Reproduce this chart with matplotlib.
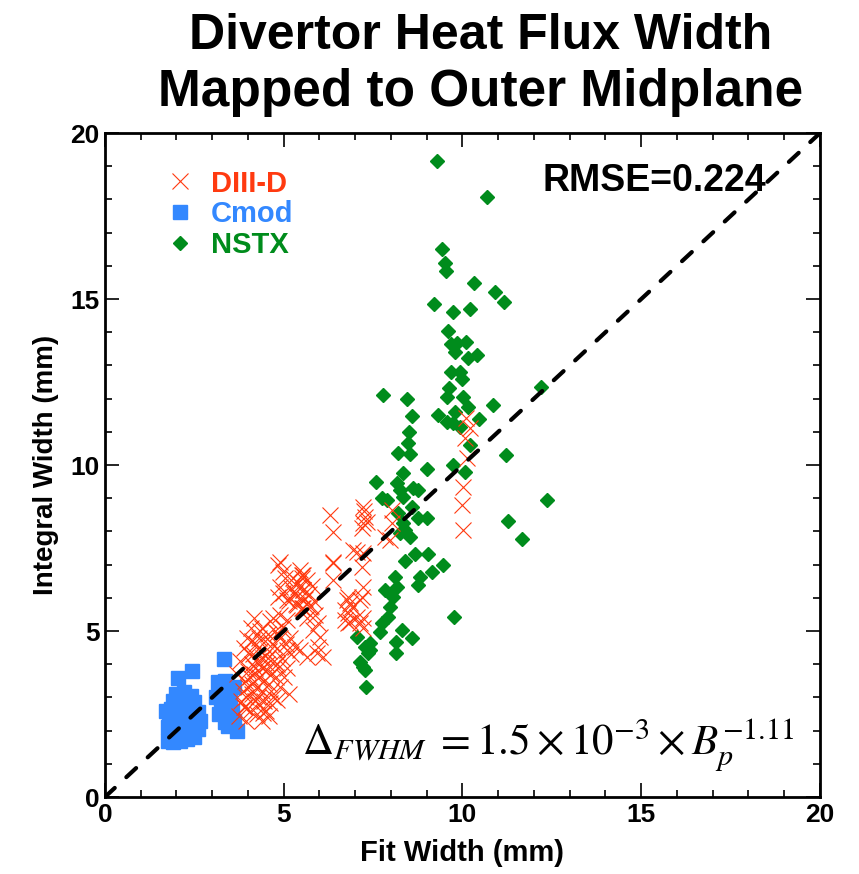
import numpy as np
import matplotlib.pyplot as plt

# values (mm)
diiid_x = [3.75, 3.8, 3.85, 3.9, 3.92, 3.95, 4.0, 4.0, 4.05, 4.05, 4.1, 4.1, 4.12, 4.15, 4.18, 4.2, 4.2, 4.22,
           4.25, 4.28, 4.3, 4.3, 4.32, 4.35, 4.38, 4.4, 4.4, 4.42, 4.45, 4.48, 4.5, 4.5, 4.52, 4.55, 4.58, 4.6,
           4.62, 4.65, 4.68, 4.7, 4.72, 4.75, 4.78, 4.8, 4.85, 4.9, 4.9, 4.95, 5.0, 5.05, 5.1, 5.15, 5.2, 3.7,
           3.78, 3.88, 3.98, 4.08, 4.18, 4.25, 4.6, 4.4, 3.95, 4.12, 4.35, 4.02, 4.55, 4.28, 4.45, 4.7, 4.82, 4.65,
           3.92, 4.42, 4.62, 4.81, 6.01, 6.1, 6.77, 6.71,
           5.15, 5.2, 5.25, 5.3, 5.35, 5.4, 5.45, 5.5, 5.52, 5.55, 5.6, 5.65, 5.7, 5.75, 5.8, 5.85, 5.45, 5.51,
           5.4, 5.54, 5.31, 5.37, 5.54, 4.9, 4.98, 4.84, 5.09, 4.9, 4.98, 5.03, 4.84, 5.54, 6.38,
           4.9, 5.09, 4.98, 4.81, 5.17, 5.31, 5.09, 5.45, 5.96, 5.73, 5.87, 5.65, 5.96, 5.82, 5.65, 5.93,
           6.29, 7.22, 7.27, 7.22, 7.33, 7.19, 7.25, 6.38, 6.94, 7.05, 6.38, 6.85, 7.13, 6.8, 7.05, 7.22, 6.85,
           7.13, 6.38, 7.19, 7.22, 7.19, 6.8, 6.71, 6.91, 6.8, 7.22, 7.83, 7.97, 8.03, 8.03, 7.22,
           10.1, 10.07, 10.13, 10.01, 9.99, 10.01, 10.2]
diiid_y = [2.45, 2.9, 3.2, 2.7, 3.5, 3.0, 3.3, 3.8, 2.6, 3.6, 3.1, 4.0, 3.4, 4.3, 3.7, 2.9, 3.9, 4.6,
           3.3, 4.1, 3.6, 4.8, 2.8, 4.4, 3.9, 3.2, 5.1, 4.2, 3.5, 4.7, 2.6, 3.8, 4.0, 4.9, 3.4, 4.4,
           5.3, 3.7, 4.6, 3.0, 4.1, 5.0, 3.6, 4.5, 3.9, 3.3, 4.8, 4.2, 3.6, 4.6, 3.9, 3.1, 4.3, 3.7,
           4.1, 4.5, 4.8, 5.1, 5.4, 2.5, 2.45, 2.3, 2.3, 4.7, 5.0, 4.3, 4.2, 3.0, 2.9, 5.4, 4.0, 3.2,
           2.71, 2.53, 2.83, 2.92, 4.82, 4.22, 5.93, 5.33,
           5.9, 6.3, 6.6, 6.1, 5.8, 6.45, 6.0, 6.7, 5.7, 6.25, 5.95, 6.55, 6.1, 5.75, 6.35, 5.9, 6.84, 6.6,
           6.33, 6.23, 6.14, 5.78, 5.69, 6.33, 6.14, 6.02, 5.93, 7.08, 6.78, 6.6, 6.99, 6.69, 7.05,
           5.48, 5.33, 5.12, 4.94, 4.79, 4.52, 4.43, 4.43, 4.52, 5.72, 5.48, 5.39, 5.24, 5.03, 4.22, 4.34,
           8.49, 8.73, 8.43, 8.25, 8.28, 8.1, 8.6, 7.98, 7.44, 7.38, 7.08, 5.84, 5.93, 5.54, 5.42, 5.39, 5.27,
           5.24, 6.54, 6.93, 6.33, 6.02, 6.02, 5.63, 5.72, 5.24, 5.09, 7.83, 7.74, 8.64, 8.25, 7.35,
           11.42, 10.81, 10.21, 9.34, 8.8, 8.04, 11.1]

cmod_x = [1.75, 1.9, 2.1, 2.3, 2.5, 1.8, 2.0, 2.2, 2.4, 2.6, 1.75, 1.95, 2.15, 2.35, 2.55, 1.8, 2.0, 2.2,
          2.4, 2.6, 1.85, 2.05, 2.25, 2.45, 1.9, 2.1, 2.3, 2.5, 2.0, 2.2, 2.4, 2.04, 2.43, 1.7, 2.65,
          3.15, 3.35, 3.2, 3.45, 3.6, 3.25, 3.5, 3.3, 3.55, 3.4, 3.6, 3.45, 3.7, 3.35, 3.33, 3.1, 3.2]
cmod_y = [1.7, 1.65, 1.7, 1.75, 1.8, 1.9, 1.95, 1.9, 2.0, 2.05, 2.1, 2.2, 2.15, 2.25, 2.3, 2.4, 2.45, 2.4,
          2.5, 2.55, 2.65, 2.7, 2.65, 2.75, 2.9, 2.95, 2.9, 2.85, 3.1, 3.15, 3.05, 3.58, 3.8, 2.6, 2.3,
          3.45, 3.5, 3.2, 3.25, 3.3, 2.95, 2.9, 2.7, 2.6, 2.45, 2.3, 2.15, 2.0, 2.25, 4.16, 3.0, 2.5]

nstx_x = [9.29, 10.69, 9.43, 9.51, 9.54, 10.32, 10.91, 11.16, 9.2, 9.73, 10.21, 9.59, 9.68, 9.85, 10.1,
          9.79, 10.15, 10.41, 9.68, 9.93, 9.99, 9.62, 12.2, 7.78, 8.45, 9.57, 10.01, 8.59, 10.85, 9.79,
          9.31, 10.15, 10.46, 9.57, 9.73, 9.93, 10.21, 8.5, 8.48, 8.2, 8.53, 11.22, 9.73, 9.0, 10.07,
          7.58, 8.34, 8.17, 8.25, 8.34, 7.89, 7.75, 8.62, 8.76, 8.59, 9.0, 8.76, 8.2, 12.36, 11.27,
          11.66, 8.34, 8.25, 8.53, 8.39, 8.67, 9.03, 9.45, 8.39, 9.15, 8.81, 8.76, 8.11, 8.17, 7.83,
          8.06, 7.97, 7.92, 7.69, 7.75, 9.76, 8.31, 8.59, 8.14, 8.14, 7.27, 7.36, 7.22, 7.3, 7.05,
          7.41, 7.13, 7.27, 7.41]
nstx_y = [19.16, 18.07, 16.5, 16.08, 15.84, 15.48, 15.21, 14.91, 14.85, 14.61, 14.7, 14.04, 13.64, 13.67,
          13.7, 13.4, 13.22, 13.31, 12.8, 12.8, 12.59, 12.32, 12.35, 12.11, 11.99, 12.05, 12.05, 11.48,
          11.81, 11.6, 11.5, 11.75, 11.39, 11.3, 11.27, 11.14, 10.6, 11.0, 10.66, 10.36, 10.33, 10.3,
          10.0, 9.88, 9.79, 9.49, 9.76, 9.46, 9.25, 9.04, 8.95, 9.0, 9.31, 9.25, 8.73, 8.4, 8.4, 8.55,
          8.95, 8.31, 7.77, 8.25, 7.95, 7.83, 8.04, 7.32, 7.32, 6.99, 7.11, 6.78, 6.63, 6.39, 6.63,
          6.33, 6.23, 6.02, 5.72, 5.42, 4.97, 5.24, 5.42, 5.03, 4.79, 4.67, 4.34, 4.52, 4.34, 3.92,
          3.31, 4.82, 4.43, 4.07, 3.83, 4.64]

red = '#ff3a10'
blue = '#3388ff'
green = '#008c1c'

plt.rcParams['font.family'] = ['Liberation Sans', 'DejaVu Sans']
plt.rcParams['mathtext.fontset'] = 'stix'

fig = plt.figure(figsize=(8.59, 8.74), dpi=100)
ax = fig.add_axes([0.1222, 0.0881, 0.8324, 0.7597])

ax.plot(cmod_x, cmod_y, 's', color=blue, ms=9.5, mec=blue, label='Cmod', zorder=2)
ax.plot(nstx_x, nstx_y, 'D', color=green, ms=7.5, mec=green, label='NSTX', zorder=3)
ax.plot(diiid_x, diiid_y, 'x', color=red, ms=11.5, mew=0.8, label='DIII-D', zorder=4)

# one-to-one line
ax.plot([0, 20], [0, 20], color='black', lw=3, dashes=(3.2, 3.8), dash_capstyle='round', zorder=5)

ax.set_xlim(0, 20)
ax.set_ylim(0, 20)
ax.set_xticks([0, 5, 10, 15, 20])
ax.set_yticks([0, 5, 10, 15, 20])
ax.set_xticks(np.arange(0, 21, 1), minor=True)
ax.set_yticks(np.arange(0, 21, 1), minor=True)
ax.tick_params(which='both', direction='in', top=True, right=True, width=1.2)
ax.tick_params(which='major', length=10, labelsize=19, pad=4)
ax.tick_params(which='minor', length=5)
for lab in ax.get_xticklabels() + ax.get_yticklabels():
    lab.set_fontweight('bold')
for sp in ax.spines.values():
    sp.set_linewidth(2)

ax.set_xlabel('Fit Width (mm)', fontsize=21, fontweight='bold', labelpad=9)
ax.set_ylabel('Integral Width (mm)', fontsize=20, fontweight='bold', labelpad=8)

h, l = ax.get_legend_handles_labels()
order = [2, 0, 1]
leg = ax.legend([h[i] for i in order], [l[i] for i in order], loc='upper left',
                bbox_to_anchor=(0.085, 0.945), frameon=False, borderaxespad=0, borderpad=0,
                handlelength=1.0, handletextpad=0.55, labelspacing=0.1,
                prop={'weight': 'bold', 'size': 21}, labelcolor='linecolor')

ax.text(0.925, 0.928, 'RMSE=0.224', transform=ax.transAxes, ha='right', va='center',
        fontsize=27, fontweight='bold')
ax.text(0.62, 0.078, r'$\Delta_{FWHM}\;=1.5\times10^{-3}\times B_p^{-1.11}$', transform=ax.transAxes,
        ha='center', va='center', fontsize=31)

fig.text(0.56, 0.944, 'Divertor Heat Flux Width', ha='center', va='baseline', fontsize=36, fontweight='bold')
fig.text(0.56, 0.879, 'Mapped to Outer Midplane', ha='center', va='baseline', fontsize=37, fontweight='bold')

fig.savefig('out.png', dpi=100)
